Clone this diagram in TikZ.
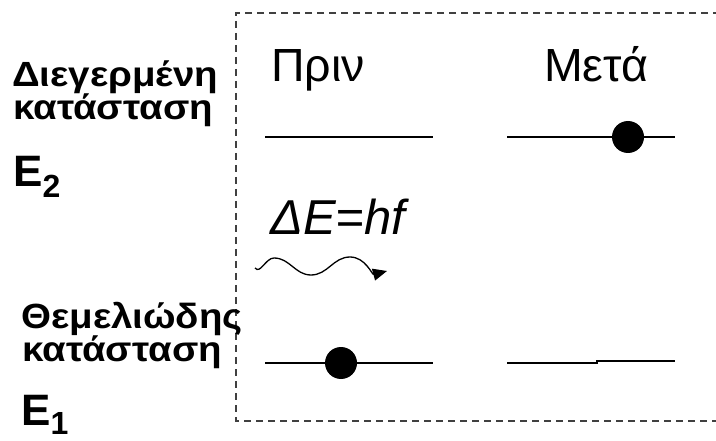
\documentclass[tikz,border=0pt]{standalone}
\usepackage{fontspec}
\setmainfont{Liberation Sans}
\newfontfamily\widefont{Liberation Sans}[FakeStretch=1.1]
\usetikzlibrary{arrows.meta}

\begin{document}
\begin{tikzpicture}[x=1pt, y=-1pt,
        state/.style={font=\widefont\bfseries\fontsize{35}{40}\selectfont, anchor=base west, inner sep=0pt},
        energy/.style={font=\bfseries\fontsize{44}{50}\selectfont, anchor=base west, inner sep=0pt},
        head/.style={font=\fontsize{46.5}{52}\selectfont, anchor=base west, inner sep=0pt},
        level/.style={line width=1.6pt},
        electron/.style={circle, fill=black, minimum size=32pt, inner sep=0pt},
        frame/.style={dash pattern=on 7pt off 5pt, line width=1.6pt, black!75},
        >={Triangle[length=14pt,width=12pt]}
    ]
        \useasboundingbox (0,0) rectangle (716,441);

        % Dashed frame (open to the right)
        \draw[frame] (720,13) -- (236,13) -- (236,421) -- (720,421);

        % Excited state label
        \node[state] (exc-1) at (12,87) {Διεγερμένη};
        \node[state] (exc-2) at (13,120) {κατάσταση};
        \node[energy] (exc-E) at (13,187) {E\raisebox{-11pt}{\fontsize{32}{34}\selectfont 2}};

        % Ground state label
        \node[state] (gnd-1) at (21,328) {Θεμελιώδης};
        \node[state] (gnd-2) at (22,362) {κατάσταση};
        \node[energy] (gnd-E) at (21,425) {E\raisebox{-9pt}{\fontsize{32}{34}\selectfont 1}};

        % Column headings
        \node[head] (before) at (271,82) {Πριν};
        \node[head] (after) at (544,82) {Μετά};

        % Energy levels
        \foreach \name/\x in {bef/265, aft/507} {
            \coordinate (\name-up-a) at (\x,137);
            \coordinate (\name-up-b) at (\x+168,137);
            \coordinate (\name-low-a) at (\x,363);
            \coordinate (\name-low-b) at (\x+168,361);
        }
        \draw[level] (bef-up-a) -- (bef-up-b);
        \draw[level] (aft-up-a) -- (aft-up-b);
        \draw[level] (bef-low-a) -- (bef-low-b |- bef-low-a);
        \draw[level] (aft-low-a) -- (597,363) -- (597,361) -- (aft-low-b);

        % Electrons
        \node[electron] (e-after) at (628,137) {};
        \node[electron] (e-before) at (341,363) {};

        % Photon
        \node[head, font=\itshape\fontsize{49}{54}\selectfont] (photon) at (270,235) {ΔE=hf};
        \coordinate (ph-a) at (255,268);
        \coordinate (ph-b) at (387,271);
        \draw[->, line width=1.3pt] (ph-a) to[out=-50, in=180] (274,258)
            to[out=0, in=180] (311,275) to[out=0, in=180] (350,257)
            to[out=0, in=195] (ph-b);
    \end{tikzpicture}
\end{document}
